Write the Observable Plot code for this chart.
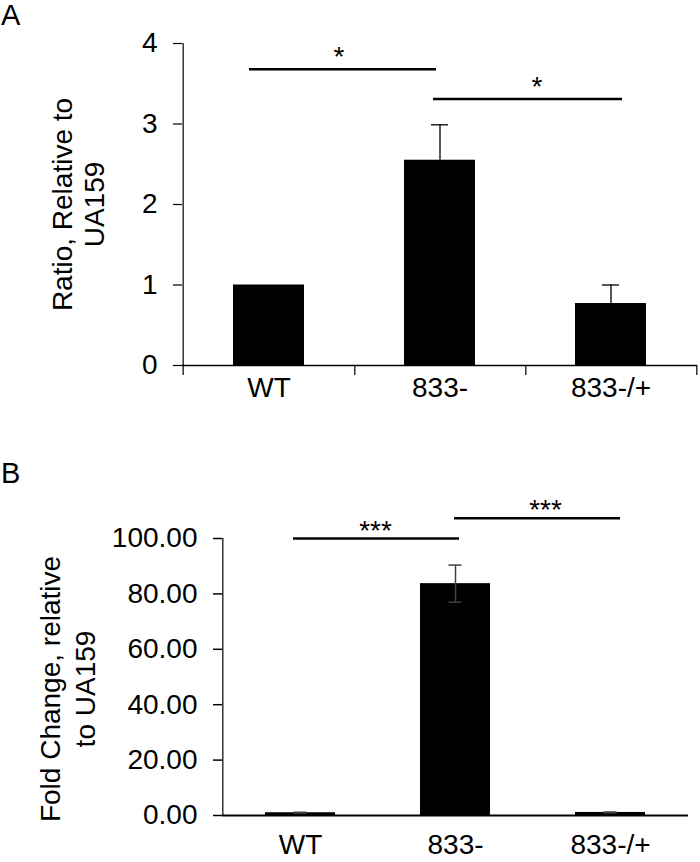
<!DOCTYPE html>
<html><head><meta charset="utf-8">
<script src="https://cdn.jsdelivr.net/npm/d3@7"></script>
<script src="https://cdn.jsdelivr.net/npm/@observablehq/plot@0.6"></script>
<style>
body{margin:0;background:#fff;}
#wrap{position:relative;width:700px;height:862px;font-family:"Liberation Sans",Arial,sans-serif;color:#000;}
.panel{position:absolute;left:1px;font-size:29px;line-height:1;}
#pa{position:absolute;left:0;top:0;}
#pb{position:absolute;left:0;top:420px;}
</style></head><body>
<div id="wrap">
<div id="pa"></div><div id="pb"></div>
<div class="panel" style="top:1px">A</div>
<div class="panel" style="top:459px">B</div>
</div>
<script>
// ---- data ----
const categories = ["WT", "833-", "833-/+"];
const ratioValues = [1.00, 2.55, 0.77];
const ratioErrors = [0, 0.44, 0.23];
const ratioTicks = [0, 1, 2, 3, 4];
const ratioSigFrom = ["WT", "833-"];
const ratioSigTo = ["833-", "833-/+"];
const ratioSigY = [3.68, 3.31];
const ratioSigLabel = ["*", "*"];

const foldValues = [1.0, 83.7, 1.1];
const foldErrors = [0.15, 6.7, 0.15];
const foldTicks = [0, 20, 40, 60, 80, 100];
const foldSigFrom = ["WT", "833-"];
const foldSigTo = ["833-", "833-/+"];
const foldSigY = [100, 107.3];
const foldSigLabel = ["***", "***"];

const ratioData = categories.map((c, i) => ({cat: c, value: ratioValues[i], err: ratioErrors[i]}));
const foldData = categories.map((c, i) => ({cat: c, value: foldValues[i], err: foldErrors[i]}));
const ratioSig = ratioSigFrom.map((f, i) => ({from: f, to: ratioSigTo[i], y: ratioSigY[i], label: ratioSigLabel[i]}));
const foldSig = foldSigFrom.map((f, i) => ({from: f, to: foldSigTo[i], y: foldSigY[i], label: foldSigLabel[i]}));

const font = '"Liberation Sans", Arial, sans-serif';

// ---- panel A ----
{
  const W = 700, H = 420, mL = 182, mR = 3, mT = 43, mB = 55;
  const step = (W - mL - mR) / categories.length;
  const px = (H - mT - mB) / 4;
  const below = -10 / px;
  const sigStyle = [
    {insetLeft: 16, insetRight: 39, dx: 70},
    {insetLeft: 29, insetRight: 24, dx: 97}
  ];
  const plot = Plot.plot({
    width: W, height: H, marginLeft: mL, marginRight: mR, marginTop: mT, marginBottom: mB,
    style: {fontFamily: font, fontSize: "28px", color: "#000", background: "transparent", overflow: "visible"},
    x: {type: "band", domain: categories, paddingInner: 0.587, paddingOuter: 0.2935, axis: null},
    y: {domain: [0, 4], axis: null},
    marks: [
      Plot.barY(ratioData, {x: "cat", y: "value", fill: "#000"}),
      Plot.ruleX(ratioData.filter(d => d.err > 0), {x: "cat", y1: "value", y2: d => d.value + d.err, stroke: "#000", strokeWidth: 1.3}),
      Plot.tickY(ratioData.filter(d => d.err > 0), {x: "cat", y: d => d.value + d.err, insetLeft: 27, insetRight: 27, stroke: "#000", strokeWidth: 1.3}),
      Plot.ruleY([0], {stroke: "#000", strokeWidth: 1.5}),
      // y-axis line (left edge of first band), extending below x axis
      Plot.ruleX([categories[0]], {x: d => d, y1: below, y2: 4, dx: -step / 2, stroke: "#000", strokeWidth: 1.2}),
      // category boundary ticks below the axis
      Plot.ruleX(categories, {x: d => d, y1: 0, y2: below, dx: step / 2, stroke: "#000", strokeWidth: 1.2}),
      Plot.axisY({ticks: ratioTicks, tickFormat: d3.format("d"), tickSize: 9, tickPadding: 16, label: null, fontSize: 28, strokeWidth: 1.2}),
      Plot.axisX({tickSize: 0, tickPadding: 12, label: null, fontSize: 28}),
      ...ratioSig.flatMap((s, i) => [
        Plot.ruleY([s], {x1: "from", x2: "to", y: "y", insetLeft: sigStyle[i].insetLeft, insetRight: sigStyle[i].insetRight, stroke: "#000", strokeWidth: 2.4}),
        Plot.text([s], {x: "from", y: "y", text: "label", dx: sigStyle[i].dx, dy: -3, lineAnchor: "bottom", fontSize: 28})
      ]),
      Plot.text(["Ratio, Relative to\nUA159"], {frameAnchor: "left", text: d => d, rotate: -90, dx: -104.5, textAnchor: "middle", lineAnchor: "middle", lineHeight: 1.13, fontSize: 28})
    ]
  });
  document.getElementById("pa").appendChild(plot);
}

// ---- panel B ----
{
  const W = 700, H = 442, mL = 222, mR = 12, mT = 118, mB = 47;
  const step = (W - mL - mR) / categories.length;
  const sigStyle = [
    {insetLeft: 28, insetRight: 31, dx: 75},
    {insetLeft: 34, insetRight: 25, dx: 90}
  ];
  const plot = Plot.plot({
    width: W, height: H, marginLeft: mL, marginRight: mR, marginTop: mT, marginBottom: mB,
    style: {fontFamily: font, fontSize: "28px", color: "#000", background: "transparent", overflow: "visible"},
    x: {type: "band", domain: categories, paddingInner: 0.55, paddingOuter: 0.275, axis: null},
    y: {domain: [0, 100], axis: null},
    marks: [
      Plot.barY(foldData, {x: "cat", y: "value", fill: "#000"}),
      Plot.ruleX(foldData, {x: "cat", y1: d => d.value - d.err, y2: d => d.value + d.err, stroke: "#404040", strokeWidth: 1.5}),
      Plot.tickY(foldData, {x: "cat", y: d => d.value + d.err, insetLeft: 28.5, insetRight: 28.5, stroke: "#404040", strokeWidth: 1.5}),
      Plot.tickY(foldData, {x: "cat", y: d => d.value - d.err, insetLeft: 28.5, insetRight: 28.5, stroke: "#404040", strokeWidth: 1.5}),
      Plot.ruleY([0], {stroke: "#000", strokeWidth: 2}),
      Plot.ruleX([categories[0]], {x: d => d, y1: 0, y2: 100, dx: -step / 2, stroke: "#000", strokeWidth: 1.2}),
      Plot.axisY({ticks: foldTicks, tickFormat: d3.format(".2f"), tickSize: 9, tickPadding: 16, label: null, fontSize: 28, strokeWidth: 1.5}),
      Plot.axisX({tickSize: 0, tickPadding: 19, label: null, fontSize: 28}),
      ...foldSig.flatMap((s, i) => [
        Plot.ruleY([s], {x1: "from", x2: "to", y: "y", insetLeft: sigStyle[i].insetLeft, insetRight: sigStyle[i].insetRight, stroke: "#000", strokeWidth: 2.4}),
        Plot.text([s], {x: "from", y: "y", text: "label", dx: sigStyle[i].dx, dy: 1, lineAnchor: "bottom", fontSize: 28})
      ]),
      Plot.text(["Fold Change, relative\nto UA159"], {frameAnchor: "left", text: d => d, rotate: -90, dx: -156.5, dy: 12, textAnchor: "middle", lineAnchor: "middle", lineHeight: 1.25, fontSize: 28})
    ]
  });
  document.getElementById("pb").appendChild(plot);
}
</script>
</body></html>
